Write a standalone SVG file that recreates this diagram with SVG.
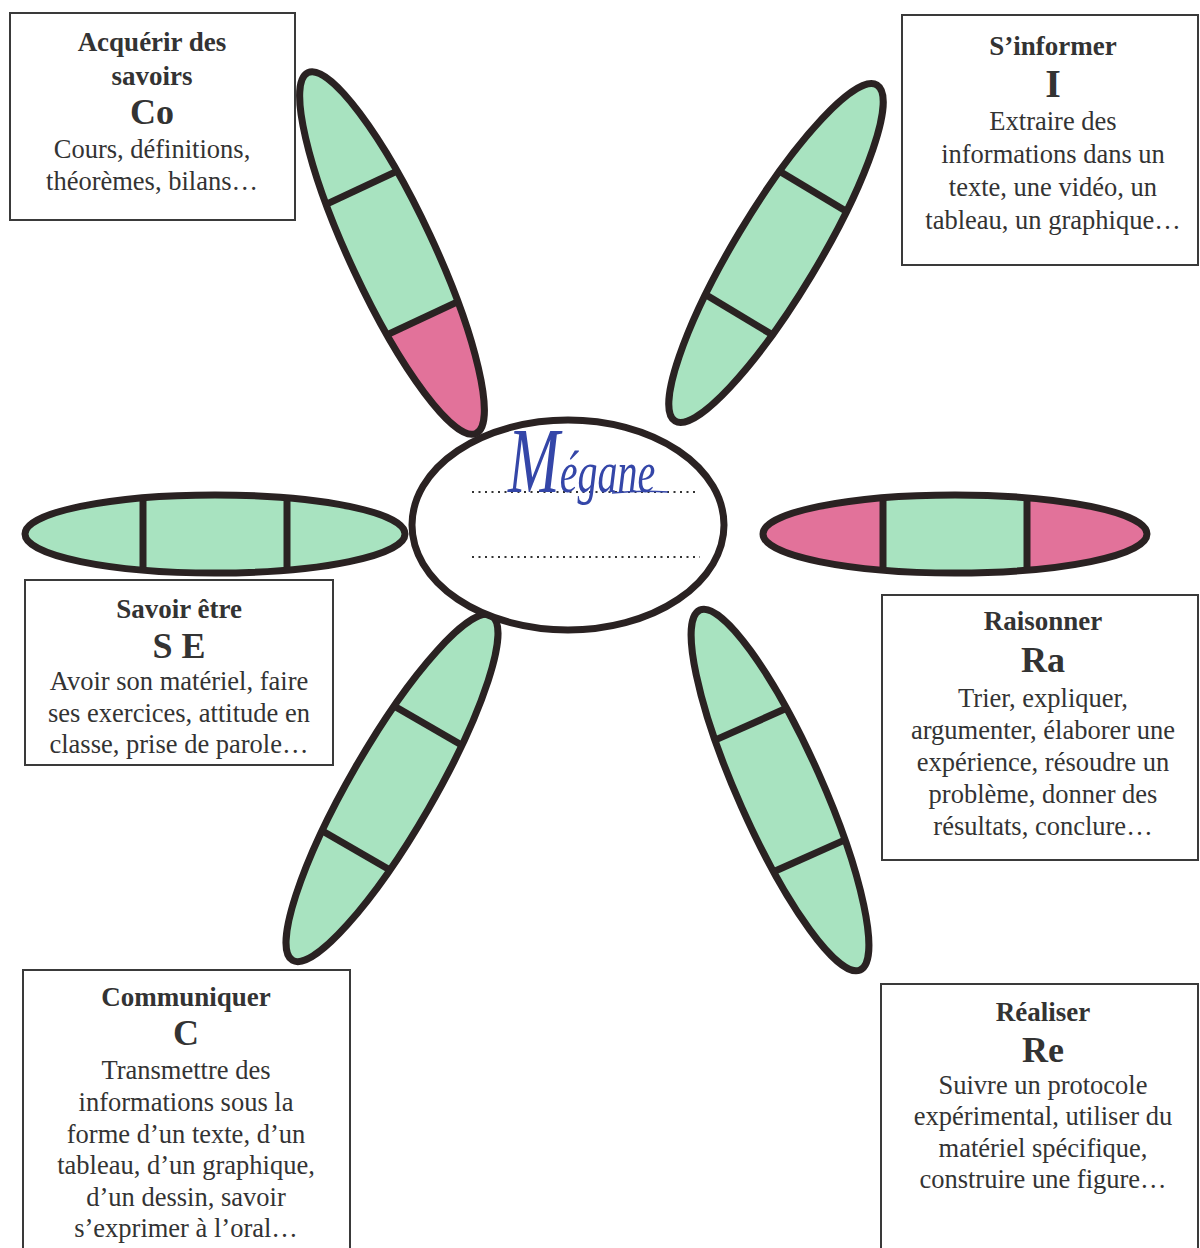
<svg xmlns="http://www.w3.org/2000/svg" width="1200" height="1248" viewBox="0 0 1200 1248">
<style>
.out{fill:none;stroke:#2a2222;stroke-width:7}
.g{fill:#a8e3c0}
.p{fill:#e2729a}
.dv{stroke:#2a2222;stroke-width:7}
.box{fill:#fff;stroke:#3a3a3a;stroke-width:2}
text{font-family:"Liberation Serif","Times New Roman",serif;text-anchor:middle;fill:#333}
.t{font-weight:bold;font-size:27px}
.k{font-weight:bold;font-size:36px}
.b{font-size:26.5px}
.dots{stroke:#333;stroke-width:2.2;stroke-dasharray:2 4.5}
</style>
<rect width="1200" height="1248" fill="#fff"/>

<g id="petals">
<g id="petal-co" transform="translate(392,253) rotate(65)">
<ellipse class="g" rx="199" ry="42"/>
<path class="p" d="M72,-39.2 A199,42 0 0 1 72,39.2 Z"/>
<line class="dv" x1="-72" y1="-39.2" x2="-72" y2="39.2"/>
<line class="dv" x1="72" y1="-39.2" x2="72" y2="39.2"/>
<ellipse class="out" rx="199" ry="42"/>
</g>
<g id="petal-i" transform="translate(776,253) rotate(-59)">
<ellipse class="g" rx="196" ry="42"/>
<line class="dv" x1="-72" y1="-39.1" x2="-72" y2="39.1"/>
<line class="dv" x1="72" y1="-39.1" x2="72" y2="39.1"/>
<ellipse class="out" rx="196" ry="42"/>
</g>
<g id="petal-se" transform="translate(215,534)">
<ellipse class="g" rx="190" ry="39"/>
<line class="dv" x1="-72" y1="-36.1" x2="-72" y2="36.1"/>
<line class="dv" x1="72" y1="-36.1" x2="72" y2="36.1"/>
<ellipse class="out" rx="190" ry="39"/>
</g>
<g id="petal-ra" transform="translate(955,534)">
<ellipse class="g" rx="192" ry="39"/>
<path class="p" d="M-72,-36.15 A192,39 0 0 0 -72,36.15 Z"/>
<path class="p" d="M72,-36.15 A192,39 0 0 1 72,36.15 Z"/>
<line class="dv" x1="-72" y1="-36.15" x2="-72" y2="36.15"/>
<line class="dv" x1="72" y1="-36.15" x2="72" y2="36.15"/>
<ellipse class="out" rx="192" ry="39"/>
</g>
<g id="petal-c" transform="translate(392,788) rotate(-60)">
<ellipse class="g" rx="199" ry="42"/>
<line class="dv" x1="-72" y1="-39.2" x2="-72" y2="39.2"/>
<line class="dv" x1="72" y1="-39.2" x2="72" y2="39.2"/>
<ellipse class="out" rx="199" ry="42"/>
</g>
<g id="petal-re" transform="translate(780,790) rotate(66)">
<ellipse class="g" rx="197" ry="42"/>
<line class="dv" x1="-72" y1="-39.1" x2="-72" y2="39.1"/>
<line class="dv" x1="72" y1="-39.1" x2="72" y2="39.1"/>
<ellipse class="out" rx="197" ry="42"/>
</g>
</g>

<g id="center">
<ellipse cx="568" cy="525" rx="156" ry="105" fill="#fff" stroke="#2a2222" stroke-width="7"/>
<line class="dots" x1="472" y1="492" x2="698" y2="492"/>
<line class="dots" x1="472" y1="557" x2="700" y2="557"/>
<text transform="translate(508,492) scale(1,1.5)" style="font-style:italic;text-anchor:start;fill:#3446a8"><tspan style="font-size:62px">M</tspan><tspan style="font-size:40px">égane</tspan></text>
<path d="M612,493 Q640,490 668,492" fill="none" stroke="#3446a8" stroke-width="1.5"/>
</g>

<g id="box-co">
<rect class="box" x="10" y="13" width="285" height="207"/>
<text class="t" x="152" y="51">Acquérir des</text>
<text class="t" x="152" y="85">savoirs</text>
<text class="k" x="152" y="124">Co</text>
<text class="b" x="152" y="158">Cours, définitions,</text>
<text class="b" x="152" y="190">théorèmes, bilans…</text>
</g>

<g id="box-i">
<rect class="box" x="902" y="15" width="296" height="250"/>
<text class="t" x="1053" y="55">S’informer</text>
<text class="k" x="1053" y="97" style="font-size:40px">I</text>
<text class="b" x="1053" y="130">Extraire des</text>
<text class="b" x="1053" y="163">informations dans un</text>
<text class="b" x="1053" y="196">texte, une vidéo, un</text>
<text class="b" x="1053" y="229">tableau, un graphique…</text>
</g>

<g id="box-se">
<rect class="box" x="25" y="580" width="308" height="185"/>
<text class="t" x="179" y="618">Savoir être</text>
<text class="k" x="179" y="658">S E</text>
<text class="b" x="179" y="690">Avoir son matériel, faire</text>
<text class="b" x="179" y="722">ses exercices, attitude en</text>
<text class="b" x="179" y="753">classe, prise de parole…</text>
</g>

<g id="box-ra">
<rect class="box" x="882" y="595" width="316" height="265"/>
<text class="t" x="1043" y="630">Raisonner</text>
<text class="k" x="1043" y="672">Ra</text>
<text class="b" x="1043" y="707">Trier, expliquer,</text>
<text class="b" x="1043" y="739">argumenter, élaborer une</text>
<text class="b" x="1043" y="771">expérience, résoudre un</text>
<text class="b" x="1043" y="803">problème, donner des</text>
<text class="b" x="1043" y="835">résultats, conclure…</text>
</g>

<g id="box-c">
<rect class="box" x="23" y="970" width="327" height="290"/>
<text class="t" x="186" y="1006">Communiquer</text>
<text class="k" x="186" y="1045">C</text>
<text class="b" x="186" y="1079">Transmettre des</text>
<text class="b" x="186" y="1111">informations sous la</text>
<text class="b" x="186" y="1143">forme d’un texte, d’un</text>
<text class="b" x="186" y="1174">tableau, d’un graphique,</text>
<text class="b" x="186" y="1206">d’un dessin, savoir</text>
<text class="b" x="186" y="1237">s’exprimer à l’oral…</text>
</g>

<g id="box-re">
<rect class="box" x="881" y="984" width="317" height="280"/>
<text class="t" x="1043" y="1021">Réaliser</text>
<text class="k" x="1043" y="1062">Re</text>
<text class="b" x="1043" y="1094">Suivre un protocole</text>
<text class="b" x="1043" y="1125">expérimental, utiliser du</text>
<text class="b" x="1043" y="1157">matériel spécifique,</text>
<text class="b" x="1043" y="1188">construire une figure…</text>
</g>
</svg>
